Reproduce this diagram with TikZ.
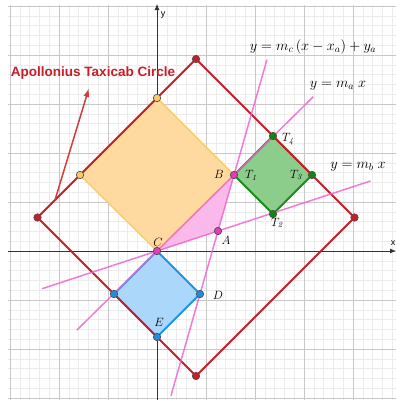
\documentclass[tikz,border=0pt]{standalone}
\usepackage{fontspec}
\newfontfamily\labfont{Liberation Sans}
\usetikzlibrary{arrows.meta,calc}
\definecolor{redd}{RGB}{200,30,40}
\definecolor{redarrow}{RGB}{210,60,60}
\definecolor{pinkl}{RGB}{240,100,210}
\definecolor{pinkpt}{RGB}{225,60,185}
\definecolor{pinkfill}{RGB}{250,185,235}
\definecolor{orfill}{RGB}{255,218,160}
\definecolor{oredge}{RGB}{250,205,110}
\definecolor{orpt}{RGB}{255,200,100}
\definecolor{blfill}{RGB}{170,215,250}
\definecolor{bledge}{RGB}{30,150,230}
\definecolor{blpt}{RGB}{30,140,225}
\definecolor{grfill}{RGB}{140,205,140}
\definecolor{gredge}{RGB}{25,140,25}
\definecolor{grpt}{RGB}{20,130,20}
\definecolor{gmajor}{RGB}{200,200,200}
\definecolor{gminor}{RGB}{236,236,236}
\tikzset{
  minorgrid/.style={gminor,line width=0.6pt},
  majorgrid/.style={gmajor,line width=0.8pt},
  axisline/.style={black!80,line width=0.8pt,-{Latex[length=6pt,width=5pt]}},
  dotbase/.style={circle,inner sep=0pt,minimum size=7.5pt,line width=0.6pt},
  dotred/.style={dotbase,draw=black!70,fill=redd},
  dotor/.style={dotbase,draw=black!70,fill=orpt},
  dotbl/.style={dotbase,draw=black!70,fill=blpt},
  dotgr/.style={dotbase,draw=black!70,fill=grpt},
  dotpk/.style={dotbase,draw=black!70,fill=pinkpt},
  ptlabel/.style={font=\fontsize{12}{14}\selectfont,inner sep=0pt},
  eqlabel/.style={font=\fontsize{14.5}{16}\selectfont,inner sep=0pt},
  pinkline/.style={pinkl,line width=1.5pt,opacity=0.85},
}
\begin{document}
\begin{tikzpicture}[x=1pt,y=-1pt]
\useasboundingbox (0,0) rectangle (396,402);
\fill[white] (0,0) rectangle (396,402);
% grid
\foreach \k in {-15,...,24} {\draw[minorgrid] ({157+9.8*\k},5) -- ({157+9.8*\k},400);}
\foreach \k in {-25,...,15} {\draw[minorgrid] (8,{251+9.8*\k}) -- (396,{251+9.8*\k});}
\foreach \k in {-3,...,4} {\draw[majorgrid] ({157+49*\k},5) -- ({157+49*\k},400);}
\foreach \k in {-5,...,3} {\draw[majorgrid] (8,{251+49*\k}) -- (396,{251+49*\k});}
% axes
\coordinate (xs) at (8,251);
\coordinate (xe) at (396,251);
\coordinate (ys) at (157,400);
\coordinate (ye) at (157,4);
\draw[axisline] (xs) -- (xe);
\draw[axisline] (ys) -- (ye);
\node[font=\labfont\fontsize{9}{10}\selectfont,inner sep=0pt] (xlab) at (393,243) {x};
\node[font=\labfont\fontsize{9}{10}\selectfont,inner sep=0pt] (ylab) at (163,15) {y};
% points
\coordinate (C) at (157,251);
\coordinate (L1) at (114,294);
\coordinate (E) at (157,337);
\coordinate (D) at (200,294);
\coordinate (Ot) at (157,98);
\coordinate (Ol) at (80,175);
\coordinate (B) at (234,175);
\coordinate (T4) at (273,136);
\coordinate (T3) at (312,175);
\coordinate (T2) at (273,214);
\coordinate (A) at (218,231);
\coordinate (Rl) at (37.5,217.5);
\coordinate (Rt) at (196,59);
\coordinate (Rr) at (354.5,217.5);
\coordinate (Rb) at (196,376);
% fills
\fill[orfill] (C) -- (B) -- (Ot) -- (Ol) -- cycle;
\fill[pinkfill] (C) -- (B) -- (A) -- cycle;
\fill[blfill] (C) -- (D) -- (E) -- (L1) -- cycle;
\fill[grfill] (B) -- (T4) -- (T3) -- (T2) -- cycle;
% edges
\draw[oredge,line width=1.5pt] (C) -- (B) -- (Ot) -- (Ol) -- cycle;
\draw[bledge,line width=1.8pt] (C) -- (D) -- (E) -- (L1) -- cycle;
\draw[gredge,line width=1.8pt] (B) -- (T4) -- (T3) -- (T2) -- cycle;
\draw[redd,line width=1.8pt] (Rl) -- (Rt) -- (Rr) -- (Rb) -- cycle;
% pink lines
\draw[pinkline] ($(C)!-1.04!(B)$) -- ($(C)!2.03!(B)$);
\draw[pinkline] ($(C)!-1.885!(A)$) -- ($(C)!3.5!(A)$);
\draw[pinkline] ($(B)!-2.06!(A)$) -- ($(B)!3.94!(A)$);
% arrow
\coordinate (arS) at (55,200);
\coordinate (arE) at (89,88);
\draw[redarrow,line width=1.5pt,-{Latex[length=9pt,width=6pt]}] (arS) -- (arE);
\node[font=\labfont\bfseries\fontsize{13.5}{15}\selectfont,text=redd,inner sep=0pt] (title) at (93,73) {Apollonius Taxicab Circle};
% dots
\node[dotred] (dRl) at (Rl) {};
\node[dotred] (dRt) at (Rt) {};
\node[dotred] (dRr) at (Rr) {};
\node[dotred] (dRb) at (Rb) {};
\node[dotor] (dOt) at (Ot) {};
\node[dotor] (dOl) at (Ol) {};
\node[dotbl] (dL1) at (L1) {};
\node[dotbl] (dE) at (E) {};
\node[dotbl] (dD) at (D) {};
\node[dotgr] (dT4) at (T4) {};
\node[dotgr] (dT3) at (T3) {};
\node[dotgr] (dT2) at (T2) {};
\node[dotpk] (dB) at (B) {};
\node[dotpk] (dC) at (C) {};
\node[dotpk] (dA) at (A) {};
% point labels
\node[ptlabel] (lB) at (219,174) {$B$};
\node[ptlabel] (lT1) at (251,175) {$T_{\mathit{1}}$};
\node[ptlabel] (lT4) at (288,139) {$T_{\mathit{4}}$};
\node[ptlabel] (lT3) at (296,175) {$T_{\mathit{3}}$};
\node[ptlabel] (lT2) at (277,223) {$T_{\mathit{2}}$};
\node[ptlabel] (lA) at (226,240) {$A$};
\node[ptlabel] (lC) at (158,242) {$C$};
\node[ptlabel] (lD) at (218,295) {$D$};
\node[ptlabel] (lE) at (159,322) {$E$};
% equation labels
\node[eqlabel] (eqc) at (313,47) {$y = m_c\,(x - x_a) + y_a$};
\node[eqlabel] (eqa) at (338,86) {$y = m_a\;x$};
\node[eqlabel] (eqb) at (358,167) {$y = m_b\;x$};
\end{tikzpicture}
\end{document}
